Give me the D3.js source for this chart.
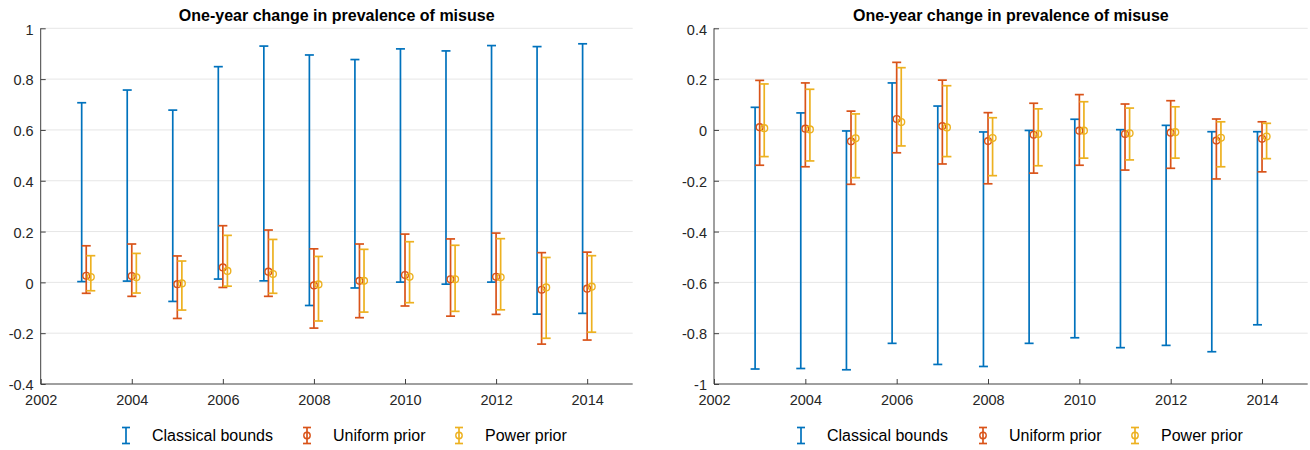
<!DOCTYPE html>
<html><head><meta charset="utf-8">
<script src="https://cdn.jsdelivr.net/npm/d3@7/dist/d3.min.js"></script>
<style>body{margin:0;background:#fff}svg{display:block}text{font-family:"Liberation Sans",Arial,Helvetica,sans-serif}</style>
</head><body><svg id="chart" width="1310" height="450"></svg>
<script>
const years = [2003,2004,2005,2006,2007,2008,2009,2010,2011,2012,2013,2014];
const xTicks = [2002,2004,2006,2008,2010,2012,2014];
const xTickLabels = ["2002","2004","2006","2008","2010","2012","2014"];
const title = "One-year change in prevalence of misuse";
const seriesNames = ["Classical bounds","Uniform prior","Power prior"];

// Left panel
const leftYTicks = [-0.4,-0.2,0,0.2,0.4,0.6,0.8,1];
const leftYTickLabels = ["-0.4","-0.2","0","0.2","0.4","0.6","0.8","1"];
const leftClassicalLo = [0.003,0.005,-0.075,0.013,0.006,-0.091,-0.022,0.001,-0.007,0.001,-0.125,-0.122];
const leftClassicalHi = [0.707,0.757,0.678,0.849,0.930,0.895,0.877,0.919,0.911,0.932,0.928,0.939];
const leftUniformLo = [-0.043,-0.055,-0.142,-0.020,-0.055,-0.180,-0.139,-0.093,-0.133,-0.126,-0.243,-0.227];
const leftUniformMid = [0.026,0.025,-0.007,0.059,0.042,-0.012,0.006,0.029,0.012,0.022,-0.029,-0.025];
const leftUniformHi = [0.144,0.151,0.104,0.223,0.206,0.132,0.151,0.190,0.171,0.194,0.117,0.119];
const leftPowerLo = [-0.033,-0.042,-0.109,-0.015,-0.043,-0.152,-0.117,-0.080,-0.114,-0.108,-0.220,-0.196];
const leftPowerMid = [0.021,0.020,-0.004,0.045,0.033,-0.008,0.006,0.022,0.012,0.020,-0.020,-0.017];
const leftPowerHi = [0.105,0.114,0.084,0.185,0.169,0.102,0.130,0.160,0.146,0.172,0.098,0.105];

// Right panel
const rightYTicks = [-1,-0.8,-0.6,-0.4,-0.2,0,0.2,0.4];
const rightYTickLabels = ["-1","-0.8","-0.6","-0.4","-0.2","0","0.2","0.4"];
const rightClassicalLo = [-0.941,-0.939,-0.944,-0.840,-0.923,-0.931,-0.840,-0.818,-0.857,-0.848,-0.873,-0.767];
const rightClassicalHi = [0.089,0.067,-0.004,0.185,0.094,-0.008,-0.002,0.042,0.001,0.018,-0.007,-0.007];
const rightUniformLo = [-0.139,-0.145,-0.214,-0.090,-0.134,-0.212,-0.170,-0.139,-0.158,-0.151,-0.193,-0.165];
const rightUniformMid = [0.011,0.005,-0.045,0.043,0.015,-0.044,-0.019,-0.003,-0.016,-0.011,-0.042,-0.035];
const rightUniformHi = [0.195,0.185,0.074,0.266,0.196,0.068,0.105,0.139,0.102,0.115,0.043,0.032];
const rightPowerLo = [-0.105,-0.122,-0.188,-0.063,-0.105,-0.180,-0.141,-0.111,-0.118,-0.111,-0.145,-0.113];
const rightPowerMid = [0.007,0.002,-0.033,0.031,0.010,-0.032,-0.016,-0.003,-0.013,-0.009,-0.031,-0.026];
const rightPowerHi = [0.181,0.160,0.063,0.245,0.174,0.048,0.083,0.111,0.086,0.091,0.032,0.026];

const colors = ["#0072BD","#D95319","#EDB120"];
const offsets = [-0.1, 0, 0.1];

const svg = d3.select("#chart");

function panel(opts){
  const g = svg.append("g");
  const x = d3.scaleLinear().domain([2002,2015]).range([opts.x0, opts.x1]);
  const y = d3.scaleLinear().domain(opts.yDomain).range([384, 28.3]);
  // gridlines
  g.append("g").selectAll("line").data(opts.yTicks.slice(1)).join("line")
    .attr("x1", opts.x0).attr("x2", opts.x1)
    .attr("y1", d=>y(d)).attr("y2", d=>y(d))
    .attr("stroke","#e6e6e6").attr("stroke-width",1);
  // x axis
  const xa = g.append("g").attr("transform","translate(0,384)")
    .call(d3.axisBottom(x).tickValues(xTicks).tickSize(-5).tickPadding(10)
      .tickFormat((d,i)=>xTickLabels[i]));
  xa.select(".domain").attr("stroke","#404040").attr("d",`M${opts.x0},0H${opts.x1}`);
  xa.selectAll(".tick line").attr("stroke","#404040");
  xa.selectAll(".tick text").attr("fill","#262626").style("font-size","14.5px").attr("dy","0.75em");
  // y axis
  const ya = g.append("g").attr("transform",`translate(${opts.x0},0)`)
    .call(d3.axisLeft(y).tickValues(opts.yTicks).tickSize(-5).tickPadding(7)
      .tickFormat((d,i)=>opts.yTickLabels[i]));
  ya.select(".domain").attr("stroke","#404040").attr("d",`M0,${y(opts.yDomain[1])}V384`);
  ya.selectAll(".tick line").attr("stroke","#404040");
  ya.selectAll(".tick text").attr("fill","#262626").style("font-size","14.5px").attr("dy","0.4em");
  // title
  g.append("text").attr("x",(opts.x0+opts.x1)/2).attr("y",21)
    .attr("text-anchor","middle").style("font-size","16px").style("font-weight","bold")
    .attr("fill","#000").text(title);
  // series
  const series = [
    {lo:opts.cLo, hi:opts.cHi, mid:null},
    {lo:opts.uLo, hi:opts.uHi, mid:opts.uMid},
    {lo:opts.pLo, hi:opts.pHi, mid:opts.pMid}
  ];
  const cap = 4.5;
  series.forEach((s,si)=>{
    const sg = g.append("g").attr("stroke",colors[si]).attr("stroke-width",1.7).attr("fill","none");
    years.forEach((yr,i)=>{
      const cx = x(yr+offsets[si]);
      sg.append("line").attr("x1",cx).attr("x2",cx).attr("y1",y(s.lo[i])).attr("y2",y(s.hi[i]));
      sg.append("line").attr("x1",cx-cap).attr("x2",cx+cap).attr("y1",y(s.lo[i])).attr("y2",y(s.lo[i]));
      sg.append("line").attr("x1",cx-cap).attr("x2",cx+cap).attr("y1",y(s.hi[i])).attr("y2",y(s.hi[i]));
      if(s.mid){
        sg.append("circle").attr("cx",cx).attr("cy",y(s.mid[i])).attr("r",3.4).attr("stroke-width",1.4);
      }
    });
  });
  // legend
  const lx = opts.legendX;
  const ly = 435.5;
  lx.forEach((mx,i)=>{
    const lg = g.append("g").attr("stroke",colors[i]).attr("stroke-width",1.7).attr("fill","none");
    lg.append("line").attr("x1",mx).attr("x2",mx).attr("y1",ly-8).attr("y2",ly+8);
    lg.append("line").attr("x1",mx-4).attr("x2",mx+4).attr("y1",ly-8).attr("y2",ly-8);
    lg.append("line").attr("x1",mx-4).attr("x2",mx+4).attr("y1",ly+8).attr("y2",ly+8);
    if(i>0) lg.append("circle").attr("cx",mx).attr("cy",ly).attr("r",3.2).attr("stroke-width",1.4);
    g.append("text").attr("x",mx+26).attr("y",ly).attr("dy","0.36em")
      .style("font-size","16px").attr("fill","#000").text(seriesNames[i]);
  });
}

panel({x0:40.7, x1:632.7, yDomain:[-0.4,1], yTicks:leftYTicks, yTickLabels:leftYTickLabels,
  cLo:leftClassicalLo, cHi:leftClassicalHi, uLo:leftUniformLo, uMid:leftUniformMid, uHi:leftUniformHi,
  pLo:leftPowerLo, pMid:leftPowerMid, pHi:leftPowerHi, legendX:[126,307,459]});
panel({x0:714, x1:1307.7, yDomain:[-1,0.4], yTicks:rightYTicks, yTickLabels:rightYTickLabels,
  cLo:rightClassicalLo, cHi:rightClassicalHi, uLo:rightUniformLo, uMid:rightUniformMid, uHi:rightUniformHi,
  pLo:rightPowerLo, pMid:rightPowerMid, pHi:rightPowerHi, legendX:[801,983,1135]});
</script></body></html>
